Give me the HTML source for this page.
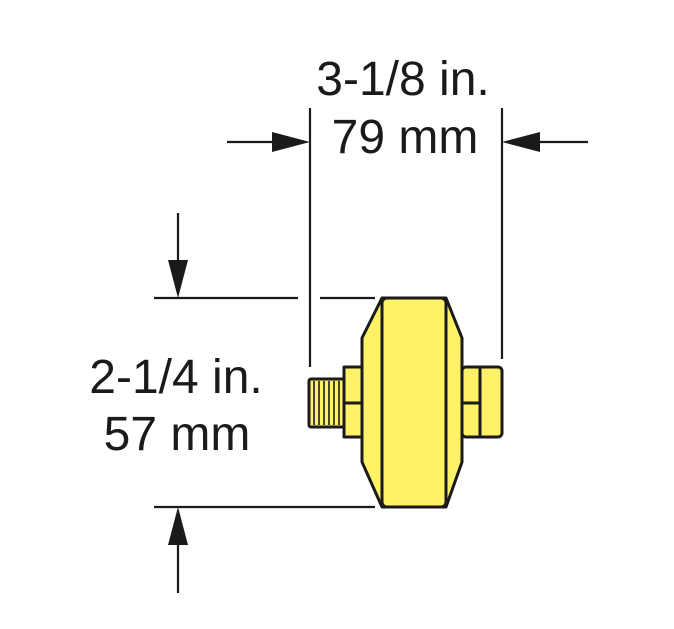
<!DOCTYPE html>
<html><head><style>html,body{margin:0;padding:0;background:#fff}svg{display:block}</style></head>
<body>
<svg width="674" height="629" viewBox="0 0 674 629" xmlns="http://www.w3.org/2000/svg">
<g stroke="#1a1a1a" stroke-width="2.2" fill="none">
<line x1="310" y1="108" x2="310" y2="367"/>
<line x1="502" y1="108" x2="502" y2="359"/>
<line x1="227" y1="142" x2="290" y2="142"/>
<line x1="525" y1="142" x2="588" y2="142"/>
<line x1="154" y1="298" x2="298" y2="298"/>
<line x1="320" y1="298" x2="375" y2="298"/>
<line x1="154" y1="507" x2="375" y2="507"/>
<line x1="178" y1="213" x2="178" y2="270"/>
<line x1="178" y1="535" x2="178" y2="593"/>
</g>
<g fill="#1a1a1a">
<polygon points="310,142 272,132 272,152"/>
<polygon points="502,142 540,132 540,152"/>
<polygon points="178,298 168,260 188,260"/>
<polygon points="178,507 168,545 188,545"/>
</g>
<g stroke="#1a1a1a" stroke-width="3" fill="#fff266" stroke-linejoin="round">
<rect x="309" y="379" width="35" height="48" rx="2"/>
<rect x="344" y="367" width="18" height="70"/>
<rect x="462" y="367" width="40" height="70" rx="4"/>
<polygon points="382,298 362,338 362,462 382,507 446,507 462,462 462,338 446,298"/>
<rect x="382" y="298" width="64" height="209" rx="5"/>
</g>
<g stroke="#1a1a1a" stroke-width="1.6">
<line x1="314" y1="381" x2="314" y2="425"/><line x1="319" y1="381" x2="319" y2="425"/>
<line x1="324" y1="381" x2="324" y2="425"/><line x1="329" y1="381" x2="329" y2="425"/>
<line x1="334" y1="381" x2="334" y2="425"/><line x1="339" y1="381" x2="339" y2="425"/>
</g>
<g stroke="#1a1a1a" stroke-width="3">
<line x1="344" y1="403" x2="362" y2="403"/>
<line x1="462" y1="403" x2="480" y2="403"/>
<line x1="480" y1="367" x2="480" y2="437"/>
</g>
<g font-family="Liberation Sans, sans-serif" font-size="48" fill="#1a1a1a" text-anchor="middle">
<text x="403" y="95">3-1/8 in.</text>
<text x="405" y="153">79 mm</text>
<text x="176" y="393">2-1/4 in.</text>
<text x="177" y="450">57 mm</text>
</g>
</svg>
</body></html>
